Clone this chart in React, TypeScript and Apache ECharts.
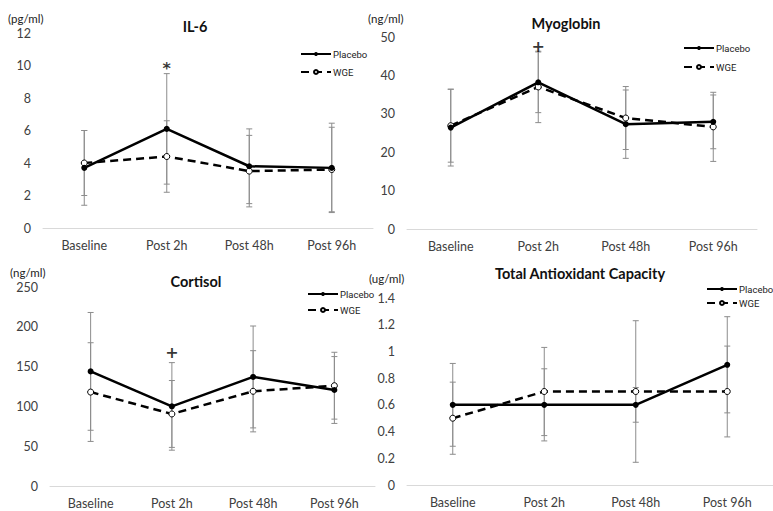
import React, { useEffect, useRef } from "react";
import * as echarts from "echarts";

const categories = ["Baseline", "Post 2h", "Post 48h", "Post 96h"];

// IL-6 (pg/ml)
const il6Placebo = [3.7, 6.1, 3.8, 3.7];
const il6PlaceboSD = [2.3, 3.4, 2.3, 2.75];
const il6WGE = [4.0, 4.4, 3.5, 3.6];
const il6WGESD = [2.0, 2.2, 2.2, 2.6];

// Myoglobin (ng/ml)
const myoPlacebo = [26.4, 38.2, 27.3, 27.9];
const myoPlaceboSD = [10.0, 7.9, 8.9, 7.0];
const myoWGE = [26.9, 37.0, 28.9, 26.6];
const myoWGESD = [9.5, 9.3, 8.2, 9.0];

// Cortisol (ng/ml)
const corPlacebo = [144, 100, 137, 120.6];
const corPlaceboSD = [74, 55, 64, 42];
const corWGE = [118, 90.5, 119, 126];
const corWGESD = [62, 42, 51, 42];

// Total Antioxidant Capacity (ug/ml)
const tacPlacebo = [0.6, 0.6, 0.6, 0.9];
const tacPlaceboSD = [0.31, 0.27, 0.13, 0.36];
const tacWGE = [0.5, 0.7, 0.7, 0.7];
const tacWGESD = [0.27, 0.33, 0.53, 0.34];

// significance marks: [category index, value, symbol]
const il6Marks: [number, number, string][] = [[1, 9.8, "*"]];
const myoMarks: [number, number, string][] = [[1, 47.4, "+"]];
const corMarks: [number, number, string][] = [[1, 168, "+"]];

const panels = [
  { title: "IL-6", unit: "(pg/ml)", max: 12, interval: 2, placebo: il6Placebo, pSD: il6PlaceboSD, wge: il6WGE, wSD: il6WGESD, marks: il6Marks,
    grid: { left: 43, top: 33, width: 330, height: 195 }, titlePos: [195, 26], unitPos: [8, 18], legend: { left: 300, top: 49, gap: 8 } },
  { title: "Myoglobin", unit: "(ng/ml)", max: 50, interval: 10, placebo: myoPlacebo, pSD: myoPlaceboSD, wge: myoWGE, wSD: myoWGESD, marks: myoMarks,
    grid: { left: 407, top: 37, width: 350, height: 192 }, titlePos: [566, 23], unitPos: [368, 18], legend: { left: 683, top: 43, gap: 9 } },
  { title: "Cortisol", unit: "(ng/ml)", max: 250, interval: 50, placebo: corPlacebo, pSD: corPlaceboSD, wge: corWGE, wSD: corWGESD, marks: corMarks,
    grid: { left: 50, top: 287, width: 325, height: 199 }, titlePos: [196, 281], unitPos: [10, 272], legend: { left: 307, top: 289, gap: 6 } },
  { title: "Total Antioxidant Capacity", unit: "(ug/ml)", max: 1.4, interval: 0.2, placebo: tacPlacebo, pSD: tacPlaceboSD, wge: tacWGE, wSD: tacWGESD, marks: [] as [number, number, string][],
    grid: { left: 407, top: 298, width: 374, height: 187 }, titlePos: [580, 273], unitPos: [369, 278], legend: { left: 706, top: 284, gap: 4 } },
];

const FONT = "Lato, 'Open Sans', sans-serif";

function errorRenderer(params: any, api: any) {
  const x = api.value(0);
  const lo = api.value(1);
  const hi = api.value(2);
  const pLo = api.coord([x, lo]);
  const pHi = api.coord([x, hi]);
  const w = 3;
  const style = { stroke: "#8c8c8c", lineWidth: 1 };
  return {
    type: "group",
    children: [
      { type: "line", shape: { x1: pLo[0], y1: pLo[1], x2: pHi[0], y2: pHi[1] }, style },
      { type: "line", shape: { x1: pHi[0] - w, y1: pHi[1], x2: pHi[0] + w, y2: pHi[1] }, style },
      { type: "line", shape: { x1: pLo[0] - w, y1: pLo[1], x2: pLo[0] + w, y2: pLo[1] }, style },
    ],
  };
}

export default function App() {
  const ref = useRef<HTMLDivElement>(null);
  useEffect(() => {
    if (!ref.current) return;
    const chart = echarts.init(ref.current, null, { renderer: "svg" });
    const grids: any[] = [];
    const xAxes: any[] = [];
    const yAxes: any[] = [];
    const series: any[] = [];
    const legends: any[] = [];
    const graphics: any[] = [];
    panels.forEach((p, i) => {
      grids.push({ ...p.grid });
      xAxes.push({
        type: "category", gridIndex: i, data: categories,
        axisLine: { lineStyle: { color: "#d9d9d9", width: 1 } },
        axisTick: { show: false },
        axisLabel: { color: "#404040", fontSize: 12.5, fontFamily: FONT, margin: 11 },
      });
      yAxes.push({
        type: "value", gridIndex: i, min: 0, max: p.max, interval: p.interval,
        splitLine: { show: false }, axisLine: { show: false }, axisTick: { show: false },
        axisLabel: { color: "#404040", fontSize: 12.5, fontFamily: FONT, margin: 12 },
      });
      series.push({
        type: "custom", name: "errP" + i, xAxisIndex: i, yAxisIndex: i, z: 1,
        renderItem: errorRenderer,
        data: p.placebo.map((v, k) => [k, v - p.pSD[k], v + p.pSD[k]]),
        silent: true,
      });
      series.push({
        type: "custom", name: "errW" + i, xAxisIndex: i, yAxisIndex: i, z: 1,
        renderItem: errorRenderer,
        data: p.wge.map((v, k) => [k, v - p.wSD[k], v + p.wSD[k]]),
        silent: true,
      });
      series.push({
        type: "line", name: "Placebo", xAxisIndex: i, yAxisIndex: i, z: 3,
        data: p.placebo, color: "#000",
        symbol: "circle", symbolSize: 6,
        lineStyle: { color: "#000", width: 2.5 },
        itemStyle: { color: "#000" },
      });
      series.push({
        type: "line", name: "WGE", xAxisIndex: i, yAxisIndex: i, z: 2,
        data: p.wge, color: "#000",
        symbol: "circle", symbolSize: 6,
        lineStyle: { color: "#000", width: 2.5, type: [8, 5] },
        itemStyle: { color: "#fff", borderColor: "#000", borderWidth: 1 },
      });
      if (p.marks.length) {
        series.push({
          type: "scatter", name: "mark" + i, xAxisIndex: i, yAxisIndex: i, z: 4,
          symbolSize: 1, itemStyle: { color: "rgba(0,0,0,0)" },
          data: p.marks.map((m) => [m[0], m[1], m[2]]),
          label: {
            show: true, position: "inside", color: "#000", fontSize: 16, fontWeight: "bold", fontFamily: "'DejaVu Sans', sans-serif",
            formatter: (d: any) => d.value[2],
          },
          silent: true,
        });
      }
      legends.push({
        data: ["Placebo", "WGE"], orient: "vertical",
        left: p.legend.left, top: p.legend.top, itemGap: p.legend.gap,
        itemWidth: 30, itemHeight: 5, padding: 0,
        textStyle: { color: "#222", fontSize: 9.5, fontFamily: "'Liberation Sans Narrow', Roboto, sans-serif", padding: [0, 0, 0, -3] },
        selectedMode: false,
      });
      graphics.push({
        type: "text", x: p.titlePos[0], y: p.titlePos[1],
        style: { text: p.title, fontSize: 14.5, fontWeight: "bold", fontFamily: FONT, fill: "#111", align: "center", verticalAlign: "middle" },
      });
      graphics.push({
        type: "text", x: p.unitPos[0], y: p.unitPos[1],
        style: { text: p.unit, fontSize: 11.5, fontFamily: FONT, fill: "#222", align: "left", verticalAlign: "middle" },
      });
    });
    chart.setOption({
      animation: false,
      backgroundColor: "#fff",
      grid: grids,
      xAxis: xAxes,
      yAxis: yAxes,
      series,
      legend: legends,
      graphic: graphics,
    });
    return () => chart.dispose();
  }, []);
  return <div ref={ref} style={{ position: "absolute", left: 0, top: 0, width: 773, height: 511 }} />;
}
